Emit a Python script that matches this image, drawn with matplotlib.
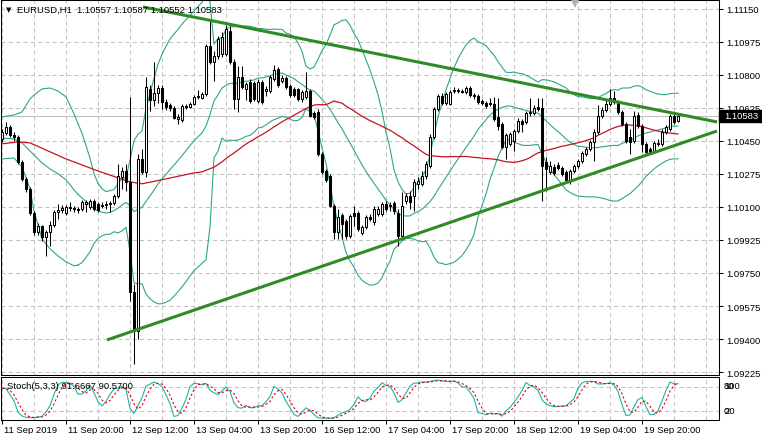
import numpy as np
import pandas as pd
import matplotlib
matplotlib.use('Agg')
import matplotlib.pyplot as plt
from matplotlib.patches import Rectangle
from matplotlib.transforms import blended_transform_factory, ScaledTranslation

plt.rcParams['font.family'] = ['Liberation Sans', 'DejaVu Sans']
FS = 6.8

title = 'EURUSD,H1  1.10557 1.10587 1.10552 1.10583'
stoch_title = 'Stoch(5,3,3) 91.6667 90.5700'

# hourly candles, 11 Sep 04:00 .. 20 Sep 05:00
opens = [1.10461, 1.10493, 1.10525, 1.10482, 1.10472, 1.10339, 1.10249, 1.10196, 1.10069, 1.09968,
         1.10000, 1.09942, 1.09968, 1.10005, 1.10074, 1.10085, 1.10069, 1.10101, 1.10095, 1.10090,
         1.10090, 1.10117, 1.10101, 1.10132, 1.10117, 1.10106, 1.10111, 1.10117, 1.10122, 1.10159,
         1.10260, 1.10291, 1.10233, 1.09650, 1.09443, 1.10355, 1.10286, 1.10726, 1.10668, 1.10705,
         1.10731, 1.10657, 1.10641, 1.10625, 1.10567, 1.10562, 1.10636, 1.10631, 1.10647, 1.10684,
         1.10678, 1.10700, 1.10954, 1.10869, 1.10901, 1.10912, 1.10912, 1.11033, 1.10869, 1.10673,
         1.10790, 1.10726, 1.10763, 1.10758, 1.10662, 1.10763, 1.10715, 1.10715, 1.10779, 1.10832,
         1.10768, 1.10784, 1.10742, 1.10726, 1.10726, 1.10673, 1.10684, 1.10715, 1.10599, 1.10604,
         1.10382, 1.10291, 1.10265, 1.10106, 1.09968, 1.10058, 1.10026, 1.09947, 1.10069, 1.10069,
         1.09963, 1.09995, 1.10048, 1.10021, 1.10064, 1.10064, 1.10117, 1.10106, 1.10122, 1.10069,
         1.09947, 1.10132, 1.10159, 1.10159, 1.10223, 1.10223, 1.10265, 1.10318, 1.10472, 1.10620,
         1.10689, 1.10652, 1.10647, 1.10715, 1.10721, 1.10715, 1.10710, 1.10731, 1.10694, 1.10689,
         1.10662, 1.10652, 1.10652, 1.10647, 1.10578, 1.10541, 1.10419, 1.10435, 1.10450, 1.10503,
         1.10556, 1.10551, 1.10599, 1.10599, 1.10631, 1.10625, 1.10339, 1.10286, 1.10313, 1.10323,
         1.10307, 1.10286, 1.10244, 1.10291, 1.10318, 1.10344, 1.10382, 1.10408, 1.10445, 1.10498,
         1.10583, 1.10615, 1.10647, 1.10678, 1.10657, 1.10604, 1.10541, 1.10472, 1.10450, 1.10588,
         1.10530, 1.10435, 1.10408, 1.10397, 1.10435, 1.10435, 1.10498, 1.10514, 1.10583, 1.10557]
highs = [1.10514, 1.10551, 1.10535, 1.10498, 1.10482, 1.10350, 1.10260, 1.10207, 1.10079, 1.10016,
         1.10005, 1.09979, 1.10026, 1.10085, 1.10117, 1.10111, 1.10111, 1.10127, 1.10106, 1.10101,
         1.10138, 1.10138, 1.10143, 1.10143, 1.10127, 1.10127, 1.10132, 1.10132, 1.10170, 1.10329,
         1.10313, 1.10329, 1.10684, 1.09693, 1.10382, 1.10408, 1.10790, 1.10747, 1.10869, 1.10747,
         1.10747, 1.10673, 1.10652, 1.10636, 1.10594, 1.10647, 1.10647, 1.10657, 1.10694, 1.10721,
         1.10710, 1.10965, 1.11086, 1.10927, 1.11007, 1.11028, 1.11065, 1.11060, 1.10885, 1.10848,
         1.10848, 1.10763, 1.10779, 1.10768, 1.10779, 1.10774, 1.10742, 1.10800, 1.10853, 1.10843,
         1.10800, 1.10795, 1.10753, 1.10737, 1.10731, 1.10721, 1.10816, 1.10726, 1.10609, 1.10620,
         1.10392, 1.10302, 1.10276, 1.10117, 1.10090, 1.10069, 1.10037, 1.10064, 1.10106, 1.10079,
         1.10005, 1.10058, 1.10064, 1.10106, 1.10106, 1.10127, 1.10132, 1.10127, 1.10132, 1.10090,
         1.10180, 1.10175, 1.10185, 1.10249, 1.10260, 1.10291, 1.10344, 1.10488, 1.10631, 1.10700,
         1.10705, 1.10710, 1.10721, 1.10737, 1.10731, 1.10726, 1.10742, 1.10742, 1.10705, 1.10700,
         1.10673, 1.10662, 1.10678, 1.10684, 1.10678, 1.10551, 1.10493, 1.10498, 1.10514, 1.10572,
         1.10567, 1.10609, 1.10678, 1.10641, 1.10678, 1.10678, 1.10366, 1.10344, 1.10329, 1.10339,
         1.10318, 1.10297, 1.10302, 1.10329, 1.10355, 1.10397, 1.10419, 1.10456, 1.10514, 1.10641,
         1.10631, 1.10668, 1.10726, 1.10715, 1.10668, 1.10615, 1.10551, 1.10514, 1.10609, 1.10604,
         1.10541, 1.10445, 1.10419, 1.10450, 1.10461, 1.10514, 1.10535, 1.10594, 1.10594, 1.10587]
lows = [1.10445, 1.10482, 1.10472, 1.10450, 1.10329, 1.10238, 1.10180, 1.10058, 1.09952, 1.09952,
        1.09920, 1.09841, 1.09894, 1.09995, 1.10037, 1.10069, 1.10058, 1.10079, 1.10074, 1.10069,
        1.10079, 1.10074, 1.10090, 1.10079, 1.10074, 1.10095, 1.10090, 1.10074, 1.10111, 1.10148,
        1.10196, 1.10185, 1.09602, 1.09269, 1.09401, 1.10276, 1.10260, 1.10609, 1.10636, 1.10652,
        1.10620, 1.10615, 1.10609, 1.10567, 1.10541, 1.10551, 1.10620, 1.10625, 1.10641, 1.10673,
        1.10673, 1.10689, 1.10859, 1.10768, 1.10885, 1.10896, 1.10901, 1.10859, 1.10620, 1.10604,
        1.10726, 1.10668, 1.10652, 1.10662, 1.10652, 1.10647, 1.10689, 1.10705, 1.10768, 1.10737,
        1.10758, 1.10726, 1.10684, 1.10684, 1.10662, 1.10657, 1.10673, 1.10578, 1.10567, 1.10371,
        1.10276, 1.10233, 1.10101, 1.09931, 1.09931, 1.09931, 1.09931, 1.09936, 1.10000, 1.09973,
        1.09952, 1.09984, 1.10026, 1.10005, 1.10053, 1.10053, 1.10079, 1.10079, 1.10064, 1.09894,
        1.09942, 1.10117, 1.10090, 1.10079, 1.10196, 1.10212, 1.10249, 1.10307, 1.10461, 1.10609,
        1.10641, 1.10641, 1.10641, 1.10705, 1.10705, 1.10705, 1.10700, 1.10684, 1.10673, 1.10647,
        1.10641, 1.10625, 1.10636, 1.10556, 1.10509, 1.10408, 1.10355, 1.10424, 1.10397, 1.10493,
        1.10498, 1.10541, 1.10583, 1.10588, 1.10609, 1.10132, 1.10185, 1.10276, 1.10270, 1.10297,
        1.10265, 1.10233, 1.10223, 1.10281, 1.10307, 1.10334, 1.10371, 1.10397, 1.10344, 1.10488,
        1.10572, 1.10604, 1.10636, 1.10647, 1.10594, 1.10530, 1.10440, 1.10382, 1.10440, 1.10519,
        1.10392, 1.10382, 1.10382, 1.10387, 1.10424, 1.10424, 1.10488, 1.10503, 1.10541, 1.10552]
closes = [1.10498, 1.10525, 1.10482, 1.10472, 1.10339, 1.10249, 1.10196, 1.10069, 1.09968, 1.10000,
          1.09942, 1.09968, 1.10005, 1.10074, 1.10085, 1.10095, 1.10101, 1.10095, 1.10090, 1.10085,
          1.10127, 1.10127, 1.10132, 1.10090, 1.10085, 1.10111, 1.10117, 1.10122, 1.10159, 1.10265,
          1.10291, 1.10233, 1.09650, 1.09443, 1.10355, 1.10286, 1.10737, 1.10668, 1.10705, 1.10731,
          1.10657, 1.10631, 1.10625, 1.10572, 1.10578, 1.10636, 1.10631, 1.10647, 1.10684, 1.10689,
          1.10700, 1.10954, 1.10869, 1.10901, 1.10991, 1.11002, 1.11044, 1.10869, 1.10673, 1.10790,
          1.10737, 1.10753, 1.10662, 1.10673, 1.10763, 1.10657, 1.10726, 1.10790, 1.10827, 1.10747,
          1.10784, 1.10737, 1.10694, 1.10694, 1.10673, 1.10710, 1.10715, 1.10583, 1.10578, 1.10382,
          1.10286, 1.10244, 1.10106, 1.09968, 1.10048, 1.10011, 1.09947, 1.10053, 1.10053, 1.09984,
          1.09995, 1.10048, 1.10037, 1.10090, 1.10090, 1.10117, 1.10090, 1.10111, 1.10079, 1.09947,
          1.10106, 1.10159, 1.10127, 1.10233, 1.10238, 1.10265, 1.10329, 1.10472, 1.10620, 1.10689,
          1.10652, 1.10700, 1.10710, 1.10721, 1.10715, 1.10712, 1.10731, 1.10694, 1.10689, 1.10657,
          1.10652, 1.10636, 1.10647, 1.10567, 1.10530, 1.10419, 1.10482, 1.10488, 1.10503, 1.10556,
          1.10541, 1.10599, 1.10604, 1.10625, 1.10620, 1.10318, 1.10302, 1.10318, 1.10281, 1.10307,
          1.10276, 1.10244, 1.10291, 1.10318, 1.10344, 1.10387, 1.10408, 1.10445, 1.10498, 1.10583,
          1.10615, 1.10647, 1.10678, 1.10657, 1.10604, 1.10541, 1.10450, 1.10445, 1.10583, 1.10530,
          1.10435, 1.10392, 1.10392, 1.10440, 1.10440, 1.10498, 1.10525, 1.10583, 1.10551, 1.10583]

date_labels = ['11 Sep 2019', '11 Sep 20:00', '12 Sep 12:00', '13 Sep 04:00', '13 Sep 20:00',
               '16 Sep 12:00', '17 Sep 04:00', '17 Sep 20:00', '18 Sep 12:00', '19 Sep 04:00',
               '19 Sep 20:00']
price_ticks = [1.11150, 1.10975, 1.10800, 1.10625, 1.10450, 1.10275,
               1.10100, 1.09925, 1.09750, 1.09575, 1.09400, 1.09225]

# trend lines drawn on the chart, (bar, price) anchors
upper_trend_bars = [35.25, 178.75]
upper_trend_prices = [1.11161, 1.10551]
lower_trend_bars = [26.25, 178.75]
lower_trend_prices = [1.09395, 1.10503]

bb_early_bars = [0, 3, 5, 7, 8, 10, 12, 14, 16, 18]
bb_early_upper = [1.10578, 1.10588, 1.10604, 1.10673, 1.10694, 1.10726, 1.10731, 1.10715, 1.10684, 1.10594]
bb_early_mid = [1.10466, 1.10461, 1.10440, 1.10397, 1.10376, 1.10334, 1.10302, 1.10276, 1.10244, 1.10191]
bb_early_lower = [1.10355, 1.10360, 1.10313, 1.10196, 1.10079, 1.09931, 1.09878, 1.09841, 1.09809, 1.09788]
ma_early_bars = [0, 4, 7, 16, 24, 32, 35, 41, 48]
ma_early = [1.10435, 1.10445, 1.10440, 1.10355, 1.10291, 1.10233, 1.10223, 1.10249, 1.10281]

n = len(closes)
bars = np.arange(n)
o = np.array(opens)
c = pd.Series(closes)
h = pd.Series(highs)
l = pd.Series(lows)

# Bollinger(20, 2) and SMA(50)
bb_mid = c.rolling(20).mean()
bb_sd = c.rolling(20).std(ddof=0)
bb_up = bb_mid + 2 * bb_sd
bb_lo = bb_mid - 2 * bb_sd
ma50 = c.rolling(50).mean()

# Stochastic(5,3,3)
ll = l.rolling(5, min_periods=1).min()
hh = h.rolling(5, min_periods=1).max()
k_main = 100 * (c - ll).rolling(3, min_periods=1).sum() / (hh - ll).rolling(3, min_periods=1).sum()
d_sig = k_main.rolling(3, min_periods=1).mean()

W, H = 762, 435
fig = plt.figure(figsize=(W / 100, H / 100), dpi=100)
ax = fig.add_axes([1 / W, 1 - 376 / H, 718 / W, 375 / H])
axs = fig.add_axes([1 / W, 1 - 421 / H, 718 / W, 43 / H])

xmin, xmax = -0.25, 179.25
ymin, ymax = 1.092091, 1.111977
px = (ymax - ymin) / 375

grid_kw = dict(color='#c4c4c4', lw=0.75, ls=(0, (4, 3)), zorder=0)
for b in range(0, 180, 8):
    ax.axvline(b, **grid_kw)
    axs.axvline(b, **grid_kw)
for p in price_ticks:
    ax.axhline(p, **grid_kw)
for lv in (20, 80):
    axs.axhline(lv, **grid_kw)

bid = closes[-1]
ax.axhline(bid, color='#c0c0c0', lw=0.8, zorder=1)

# indicators
bb_col = '#2fa58c'
for early, full in ((bb_early_upper, bb_up), (bb_early_mid, bb_mid), (bb_early_lower, bb_lo)):
    ax.plot(np.r_[bb_early_bars, 19], np.r_[early, full[19]], color=bb_col, lw=0.8, zorder=2)
    ax.plot(bars[19:], full[19:], color=bb_col, lw=0.8, zorder=2)
ma_col = '#c41420'
ax.plot(np.r_[ma_early_bars, 49], np.r_[ma_early, ma50[49]], color=ma_col, lw=0.9, zorder=2)
ax.plot(bars[49:], ma50[49:], color=ma_col, lw=0.9, zorder=2)

# candles
cl = np.array(closes)
ax.vlines(bars, lows, highs, color='black', lw=0.75, zorder=3)
body_col = np.where(cl >= o, 'white', 'black')
ax.bar(bars, np.abs(cl - o), bottom=np.minimum(o, cl), width=0.5, color=body_col,
       edgecolor='black', linewidth=0.75, zorder=4)

# trend lines
tl_col = '#2e8b25'
ax.plot(upper_trend_bars, upper_trend_prices, color=tl_col, lw=2.2, solid_capstyle='butt', zorder=5)
ax.plot(lower_trend_bars, lower_trend_prices, color=tl_col, lw=2.2, solid_capstyle='butt', zorder=5)

# chart shift marker
ax.plot([143.25], [ymax - 3.5 * px], marker='v', ms=5.5, mew=0, color='#b0b0b0', zorder=6, clip_on=False)

ax.set_xlim(xmin, xmax)
ax.set_ylim(ymin, ymax)
ax.set_yticks(price_ticks)
ax.set_yticklabels([f'{p:.5f}' for p in price_ticks])
ax.yaxis.tick_right()
ax.tick_params(axis='y', direction='out', length=3, width=0.75, pad=2, labelsize=FS)
ax.tick_params(axis='x', bottom=False, labelbottom=False)

# current price box
blend = blended_transform_factory(ax.transAxes, ax.transData)
ax.add_patch(Rectangle((1.0, bid - 6 * px), 43 / 718, 12 * px, transform=blend,
                       facecolor='black', edgecolor='black', clip_on=False, zorder=10))
ax.text(1.0 + 5 / 718, bid, f'{bid:.5f}', transform=blend, color='white', fontsize=FS,
        va='center', ha='left', zorder=11, clip_on=False)

# stochastic panel
axs.plot(bars, k_main, color='#20b2aa', lw=0.8, zorder=3)
axs.plot(bars, d_sig, color='#e00000', lw=0.8, ls=(0, (2, 2)), zorder=3)
axs.set_xlim(xmin, xmax)
axs.set_ylim(-2.5, 105)
axs.set_yticks([])
axs.set_xticks(np.arange(len(date_labels)) * 16)
axs.set_xticklabels(date_labels, ha='left', fontsize=FS)
axs.tick_params(axis='x', direction='out', length=3, width=0.75, pad=0.3)
shift = ScaledTranslation(2 / 100, 0, fig.dpi_scale_trans)
for t in axs.get_xticklabels():
    t.set_transform(t.get_transform() + shift)

for a in (ax, axs):
    for s in a.spines.values():
        s.set_linewidth(0.75)
        s.set_color('black')

fig.text(17 / W, 1 - 10 / H, title, fontsize=FS, va='center', zorder=20)
fig.text(6 / W, 1 - 10 / H, '\u25bc', fontsize=5, va='center', family=['DejaVu Sans'])
fig.text(7 / W, 1 - 387 / H, stoch_title, fontsize=FS, va='center')
for lab, yy in (('100', 387), ('80', 387), ('20', 412), ('0', 412)):
    fig.text(724 / W, 1 - yy / H, lab, fontsize=FS, va='center')

fig.savefig('out.png', dpi=100, facecolor='white')
